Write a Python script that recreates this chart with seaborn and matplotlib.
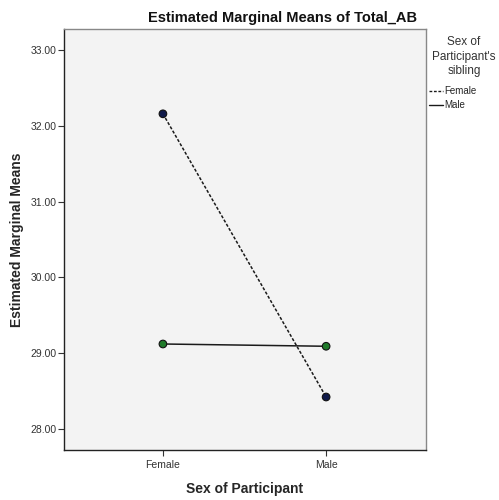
import pandas as pd
import seaborn as sns
import matplotlib.pyplot as plt
from matplotlib.lines import Line2D

# datos
participante = ['Female', 'Male']
hermano_fem = [32.16, 28.42]
hermano_masc = [29.12, 29.09]
niveles_hermano = ['Female', 'Male']
yticks = [28, 29, 30, 31, 32, 33]

df = pd.DataFrame({
    'participante': participante * 2,
    'hermano': [niveles_hermano[0]] * 2 + [niveles_hermano[1]] * 2,
    'media': hermano_fem + hermano_masc,
})

sns.set_style('white')
plt.rcParams['font.family'] = ['Liberation Sans', 'DejaVu Sans']

fig = plt.figure(figsize=(4.99, 5.0), dpi=100)
ax = fig.add_axes([0.128, 0.10, 0.726, 0.842])
ax.set_facecolor('#f3f3f3')

sns.lineplot(data=df, x='participante', y='media', style='hermano',
             dashes={'Female': (2, 1.2), 'Male': ''}, color='#1a1a1a',
             linewidth=1.1, legend=False, ax=ax)
sns.scatterplot(data=df, x='participante', y='media', hue='hermano',
                palette={'Female': '#101a4a', 'Male': '#1f7a2a'},
                edgecolor='#111111', linewidth=0.8, s=30, legend=False,
                zorder=3, ax=ax)

ax.set_xlim(-0.607, 1.613)
ax.set_ylim(27.72, 33.28)
ax.set_yticks(yticks)
ax.set_yticklabels([f'{v:.2f}' for v in yticks], fontsize=7.5, color='#333333')
ax.tick_params(axis='x', labelsize=7.5, labelcolor='#333333')
ax.tick_params(axis='both', length=4, width=0.8, color='#333333', direction='out')
ax.tick_params(axis='y', pad=1)
ax.tick_params(axis='both', bottom=True, left=True)

for s in ax.spines.values():
    s.set_color('#888888')
    s.set_linewidth(1)
ax.spines['left'].set_color('#222222')
ax.spines['bottom'].set_color('#222222')

ax.set_xlabel('Sex of Participant', fontsize=10, fontweight='bold', labelpad=8)
ax.set_ylabel('Estimated Marginal Means', fontsize=10, fontweight='bold', labelpad=5)
fig.text(283 / 499, 1 - 22 / 500, 'Estimated Marginal Means of Total_AB',
         fontsize=10.5, fontweight='bold', ha='center', va='baseline',
         color='#111111')

# leyenda: titulo aparte para separar las entradas
fig.text(464 / 499, 1 - 36 / 500, "Sex of\nParticipant's\nsibling",
         fontsize=8.5, ha='center', va='top', multialignment='center',
         color='#333333', linespacing=1.3)
handles = [
    Line2D([], [], color='#1a1a1a', lw=1, dashes=(2, 1.2)),
    Line2D([], [], color='#1a1a1a', lw=1),
]
fig.legend(handles, niveles_hermano, loc='upper left',
           bbox_to_anchor=(429 / 499, 1 - 86 / 500), frameon=False,
           fontsize=7, handlelength=1.4, handletextpad=0.2,
           labelspacing=0.45, borderpad=0, borderaxespad=0)

plt.savefig('out.png', dpi=100)
